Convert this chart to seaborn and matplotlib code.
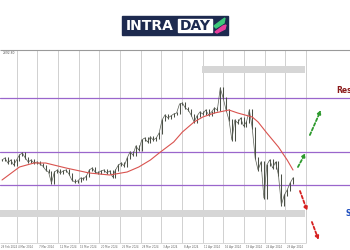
import numpy as np
import pandas as pd
import matplotlib
matplotlib.use("Agg")
import matplotlib.pyplot as plt
import seaborn as sns
from matplotlib.patches import Rectangle, Polygon

# ---- data ----
closes = [2280, 2282, 2277, 2280, 2275, 2280, 2285, 2287, 2282, 2278,
          2280, 2277, 2278, 2276, 2274, 2270, 2268, 2257, 2268, 2270,
          2267, 2269, 2270, 2266, 2260, 2258, 2259, 2262, 2261, 2264,
          2270, 2272, 2268, 2267, 2269, 2270, 2267, 2269, 2263, 2270,
          2275, 2277, 2274, 2282, 2288, 2285, 2294, 2290, 2300, 2302,
          2298, 2303, 2300, 2302, 2307, 2320, 2325, 2322, 2324, 2326,
          2327, 2336, 2337, 2332, 2330, 2325, 2318, 2324, 2328, 2326,
          2330, 2325, 2328, 2332, 2330, 2352, 2342, 2330, 2320, 2300,
          2320, 2317, 2322, 2314, 2318, 2330, 2312, 2282, 2270, 2278,
          2242, 2275, 2280, 2272, 2278, 2265, 2235, 2245, 2250, 2257, 2262]
ma_bars = [0, 6, 11, 15, 22, 30, 37, 43, 47, 51, 54, 59, 62, 66, 69, 73,
           78, 81, 86, 88, 91, 95, 98, 100]
ma_values = [2260, 2273, 2277, 2277, 2272, 2267, 2265, 2268, 2273, 2280,
             2287, 2298, 2308, 2318, 2323, 2327, 2330, 2327, 2323, 2318,
             2307, 2293, 2280, 2270]
levels = [2342, 2288, 2255]
zone_top = (68.7, 104, 2367, 2374)      # bar start, bar end, low, high
zone_bottom = (-1, 104, 2223, 2230)
up_arrows = [((105.8, 2305), (109.6, 2330)), ((101.7, 2273), (104.3, 2287))]
down_arrows = [((102.4, 2249), (104.9, 2229)), ((106.5, 2218), (108.8, 2200))]
date_labels = ["29 Feb 2024", "4 Mar 2024", "7 Mar 2024", "12 Mar 2024",
               "15 Mar 2024", "20 Mar 2024", "25 Mar 2024", "28 Mar 2024",
               "3 Apr 2024", "8 Apr 2024", "11 Apr 2024", "16 Apr 2024",
               "19 Apr 2024", "24 Apr 2024", "29 Apr 2024"]

sns.set_theme(style="white")
plt.rcParams['font.family'] = ['DejaVu Sans']

fig = plt.figure(figsize=(3.5, 2.5), dpi=100)
ax = fig.add_axes([0, 0, 1, 1])
px = 2.91
x0 = -2 / px
ax.set_xlim(x0, x0 + 350 / px)
ax.set_ylim(2190, 2440)
ax.axis("off")

# chart frame & grid
grid_x = np.arange(5.05, 105, 7.1)
ax.vlines(grid_x, 2197, 2390, color="#d0d0d0", lw=0.7, zorder=0)
ax.hlines(2390, x0, x0 + 350 / px, color="#9a9a9a", lw=0.8, zorder=1)
ax.hlines(2197, x0, 104.5, color="#d8d8d8", lw=0.7, zorder=1)
ax.text(0.2, 2389.5, "2392.80", fontsize=2.2, color="#555555", va="top")
for gx, lab in zip(grid_x - 6.8, date_labels):
    ax.text(max(gx + 0.3, x0 + 0.2), 2195, lab, fontsize=1.9, color="#666666", va="top")

# zones
for b0, b1, lo, hi in (zone_top, zone_bottom):
    ax.add_patch(Rectangle((b0, lo), b1 - b0, hi - lo, color="#d6d6d6", lw=0, zorder=1))

# levels
for lv in levels:
    ax.axhline(lv, color="#9a66cc", lw=0.9, zorder=2)

# price (candles as range bars)
bars = np.arange(len(closes))
df = pd.DataFrame({"bar": bars, "close": closes})
opens = [closes[0]] + closes[:-1]
ax.vlines(bars, np.minimum(opens, closes) - 1.0, np.maximum(opens, closes) + 1.0,
          color="#4b5046", lw=0.75, zorder=3)
sns.lineplot(data=df, x="bar", y="close", ax=ax, color="#5a5f55", lw=0.5, zorder=3)

# moving average
sns.lineplot(x=ma_bars, y=ma_values, ax=ax, color="#d9534f", lw=0.8, zorder=4)

# scenario arrows
for (s, e) in up_arrows:
    ax.annotate("", xy=e, xytext=s,
                arrowprops=dict(arrowstyle="-|>", color="#2e9a2e", lw=1.3,
                                linestyle=(0, (1.6, 1.2)), mutation_scale=5,
                                shrinkA=0, shrinkB=0), zorder=5)
for (s, e) in down_arrows:
    ax.annotate("", xy=e, xytext=s,
                arrowprops=dict(arrowstyle="-|>", color="#d62020", lw=1.3,
                                linestyle=(0, (1.6, 1.2)), mutation_scale=5,
                                shrinkA=0, shrinkB=0), zorder=5)

ax.text(115.0, 2345, "Resistance", fontsize=5.5, color="#8b1a1a",
        fontweight="bold", va="bottom", clip_on=False)
ax.text(118.2, 2226, "Support", fontsize=5.5, color="#1f4fbf",
        fontweight="bold", va="center")

# logo
fig.patches.append(Rectangle((122 / 350, 1 - 35 / 250), 106 / 350, 19 / 250,
                             transform=fig.transFigure, color="#1d2a4f", zorder=10))
fig.patches.append(Rectangle((178 / 350, 1 - 32 / 250), 34 / 350, 13 / 250,
                             transform=fig.transFigure, color="white", zorder=11))
fig.text(150 / 350, 1 - 25.5 / 250, "INTRA", color="white", fontsize=10,
         fontweight="bold", ha="center", va="center", zorder=12)
fig.text(195 / 350, 1 - 25.5 / 250, "DAY", color="#1d2a4f", fontsize=10,
         fontweight="bold", ha="center", va="center", zorder=12)
fig.patches.append(Polygon([(214 / 350, 1 - 26 / 250), (222 / 350, 1 - 20 / 250),
                            (225 / 350, 1 - 18 / 250), (224 / 350, 1 - 23 / 250),
                            (216 / 350, 1 - 28 / 250)],
                           transform=fig.transFigure, color="#3ec97a", zorder=12))
fig.patches.append(Polygon([(215 / 350, 1 - 32 / 250), (223 / 350, 1 - 26 / 250),
                            (226 / 350, 1 - 25 / 250), (225 / 350, 1 - 29 / 250),
                            (217 / 350, 1 - 33 / 250)],
                           transform=fig.transFigure, color="#e83e9c", zorder=12))

fig.savefig("out.png", dpi=100)
